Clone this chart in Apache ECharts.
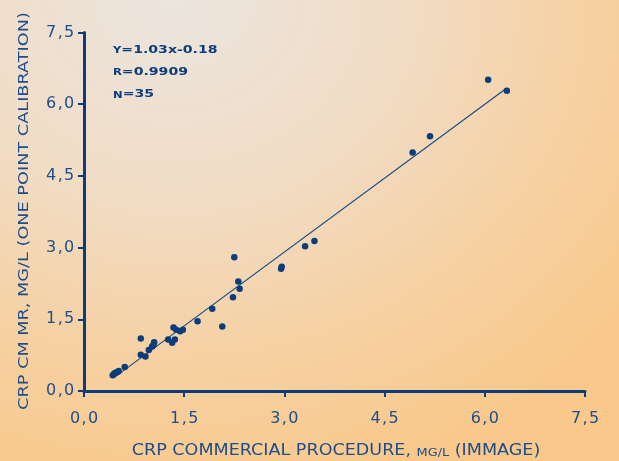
<!DOCTYPE html>
<html>
<head>
<meta charset="utf-8">
<script src="https://cdn.jsdelivr.net/npm/echarts@6/dist/echarts.min.js"></script>
<style>
html,body{margin:0;padding:0;width:619px;height:461px;overflow:hidden;}
body{background:radial-gradient(ellipse 95% 110% at 28% 0%, #ebe5df 0%, #f1dcc4 40%, #f6d1a3 70%, #f9c88a 100%);}
#chart{width:619px;height:461px;}
</style>
</head>
<body>
<div id="chart"></div>
<script>
// Data
const xValues = [0.43, 0.45, 0.47, 0.50, 0.52, 0.61, 0.85, 0.85, 0.92, 0.97,
                 1.02, 1.04, 1.05, 1.26, 1.32, 1.36, 1.34, 1.38, 1.44, 1.48,
                 1.70, 1.92, 2.07, 2.23, 2.25, 2.31, 2.33, 2.95, 2.96, 3.31,
                 3.45, 4.92, 5.18, 6.05, 6.33];
const yValues = [0.33, 0.36, 0.38, 0.40, 0.42, 0.50, 1.10, 0.76, 0.72, 0.86,
                 0.93, 0.96, 1.02, 1.08, 1.01, 1.08, 1.33, 1.28, 1.25, 1.28,
                 1.46, 1.72, 1.35, 1.96, 2.80, 2.29, 2.14, 2.56, 2.60, 3.03,
                 3.14, 4.99, 5.33, 6.51, 6.28];
const fitLineX = [0.45, 6.33];
const fitLineY = [0.28, 6.34];
const tickValues = [0, 1.5, 3.0, 4.5, 6.0, 7.5];
const statsLines = ['Y=1.03x-0.18', 'R=0.9909', 'N=35'];
const xAxisTitle = 'CRP COMMERCIAL PROCEDURE, ';
const xAxisUnit = 'MG/L';
const xAxisTail = ' (IMMAGE)';
const yAxisTitle = 'CRP CM MR, MG/L (ONE POINT CALIBRATION)';

const navy = '#0b3d7c';
const textBlue = '#1d4d8c';

const points = xValues.map((x, i) => [x, yValues[i]]);
const fitLine = fitLineX.map((x, i) => [x, fitLineY[i]]);
// spaced-out (extended) tick labels: each character is its own rich token
const fmt = v => v.toFixed(1).replace('.', ',').split('').map(c => '{d|' + c + '}').join('');

const labelRich = { d: { color: textBlue, fontFamily: 'DejaVu Sans', fontSize: 16, padding: [0, 0.7] } };

const axisCommon = {
  type: 'value',
  min: tickValues[0],
  max: tickValues[tickValues.length - 1],
  interval: tickValues[1] - tickValues[0],
  splitLine: { show: false },
  axisLine: { show: true, onZero: false, lineStyle: { color: navy, width: 3 } },
  axisTick: { show: true, inside: false, length: 6, lineStyle: { color: navy, width: 2 } },
  axisLabel: { formatter: fmt, rich: labelRich, color: textBlue }
};

function statRich(s) {
  // first letter rendered as small cap
  return '{s|' + s[0] + '}{b|' + s.slice(1) + '}';
}

const chart = echarts.init(document.getElementById('chart'), null, { renderer: 'canvas' });
chart.setOption({
  backgroundColor: 'transparent',
  animation: false,
  grid: { left: 84, right: 34, top: 32.5, bottom: 70, containLabel: false },
  xAxis: Object.assign({}, axisCommon, {
    axisLabel: Object.assign({}, axisCommon.axisLabel, { margin: 20 })
  }),
  yAxis: Object.assign({}, axisCommon, {
    axisLabel: Object.assign({}, axisCommon.axisLabel, { margin: 9 })
  }),
  graphic: [
    {
      type: 'text',
      x: 336, y: 451,
      scaleX: 1.17,
      style: {
        text: '{t|' + xAxisTitle + '}{u|' + xAxisUnit + '}{t|' + xAxisTail + '}',
        align: 'center', verticalAlign: 'middle',
        rich: {
          t: { fill: textBlue, fontFamily: 'DejaVu Sans', fontSize: 15, verticalAlign: 'bottom' },
          u: { fill: textBlue, fontFamily: 'DejaVu Sans', fontSize: 11, verticalAlign: 'bottom' }
        }
      }
    },
    {
      type: 'text',
      x: 24, y: 211,
      rotation: Math.PI / 2,
      scaleX: 1.22,
      style: {
        text: yAxisTitle,
        align: 'center', verticalAlign: 'middle',
        fill: textBlue, fontFamily: 'DejaVu Sans', fontSize: 14.5
      }
    }
  ].concat(statsLines.map((s, i) => ({
    type: 'text',
    x: 113,
    y: 49.7 + i * 22.3,
    scaleX: 1.28,
    style: {
      text: statRich(s),
      align: 'left', verticalAlign: 'middle',
      rich: {
        s: { fill: navy, fontFamily: 'DejaVu Sans', fontWeight: 'bold', fontSize: 9, verticalAlign: 'bottom' },
        b: { fill: navy, fontFamily: 'DejaVu Sans', fontWeight: 'bold', fontSize: 11, verticalAlign: 'bottom' }
      }
    }
  }))),
  series: [
    {
      type: 'line',
      data: fitLine,
      symbol: 'none',
      lineStyle: { color: '#1a4a84', width: 1.2 },
      z: 2
    },
    {
      type: 'scatter',
      data: points,
      symbol: 'circle',
      symbolSize: 6.5,
      itemStyle: { color: navy, opacity: 1 },
      z: 3
    }
  ]
});
</script>
</body>
</html>
